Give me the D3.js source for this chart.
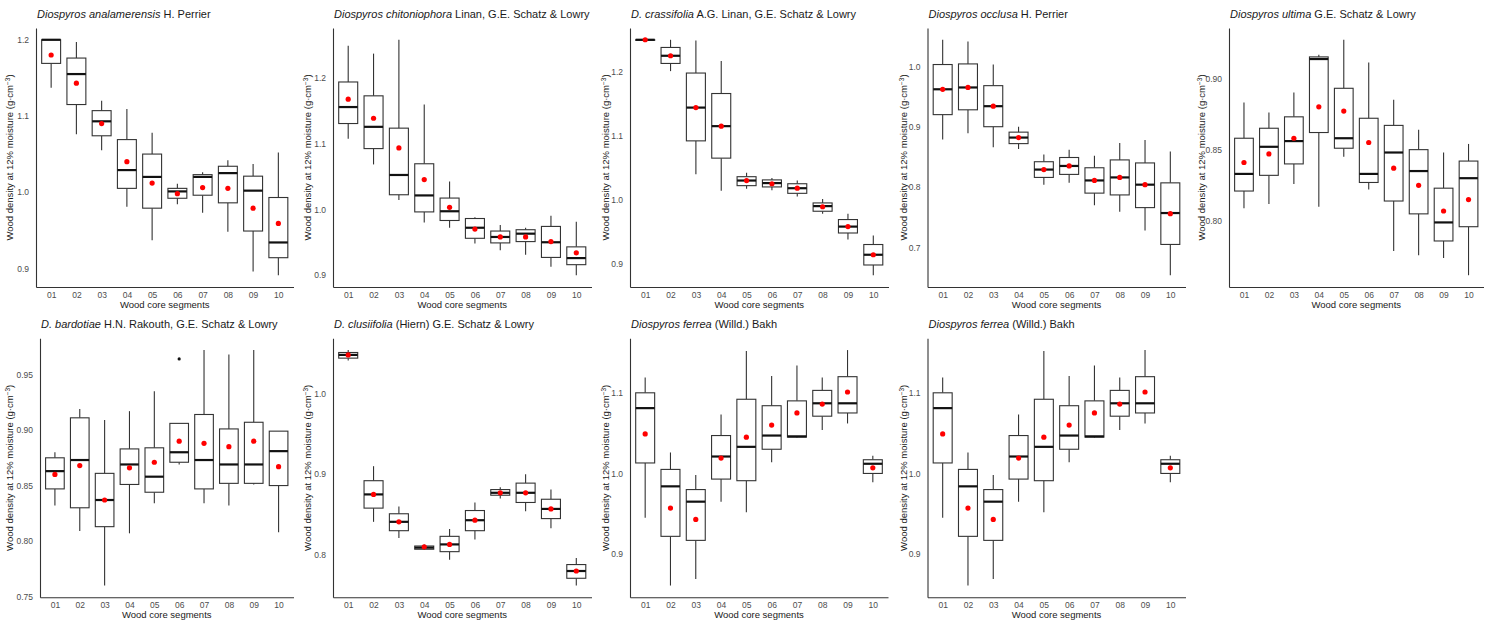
<!DOCTYPE html>
<html>
<head>
<meta charset='utf-8' />
<title>Wood density by core segment</title>
<script src="https://d3js.org/d3.v7.min.js"></script>
<style>
body { margin: 0; padding: 0; background: #fff; }
svg text { font-family: "Liberation Sans", Arial, sans-serif; }
.axis .domain { stroke: #333; stroke-width: 1.1; }
.axis text { fill: #4d4d4d; font-size: 8.5px; }
</style>
</head>
<body>
<div id='chart'></div>
<script>

// segments on the x axis
var segments = ["01","02","03","04","05","06","07","08","09","10"];

// each row: lower whisker, q1, median, q3, upper whisker, mean
var analamerensis = [
  [1.137,1.169,1.200,1.200,1.200,1.180],
  [1.076,1.115,1.155,1.176,1.197,1.143],
  [1.055,1.074,1.093,1.107,1.120,1.090],
  [0.981,1.005,1.029,1.069,1.109,1.040],
  [0.937,0.979,1.020,1.050,1.078,1.012],
  [0.984,0.992,1.001,1.005,1.011,0.998],
  [0.973,0.996,1.020,1.023,1.026,1.006],
  [0.948,0.986,1.025,1.034,1.042,1.005],
  [0.896,0.949,1.002,1.021,1.037,0.979],
  [0.891,0.914,0.934,0.993,1.052,0.959]
];
var chitoniophora = [
  [1.107,1.130,1.155,1.193,1.248,1.167],
  [1.068,1.092,1.125,1.172,1.236,1.138],
  [1.014,1.022,1.052,1.123,1.257,1.093],
  [0.980,0.996,1.021,1.069,1.159,1.045],
  [0.972,0.983,0.997,1.017,1.042,1.003],
  [0.948,0.956,0.972,0.986,0.988,0.970],
  [0.938,0.949,0.958,0.967,0.976,0.958],
  [0.931,0.951,0.963,0.969,0.972,0.958],
  [0.913,0.927,0.950,0.974,0.990,0.951],
  [0.900,0.916,0.926,0.943,0.981,0.934]
];
var crassifolia = [
  [1.250,1.250,1.250,1.250,1.250,1.250],
  [1.201,1.213,1.225,1.238,1.250,1.225],
  [1.040,1.092,1.144,1.198,1.249,1.144],
  [1.014,1.065,1.115,1.166,1.217,1.115],
  [1.017,1.022,1.030,1.036,1.042,1.030],
  [1.015,1.020,1.026,1.031,1.034,1.025],
  [1.005,1.010,1.018,1.025,1.030,1.018],
  [0.978,0.982,0.990,0.995,1.001,0.989],
  [0.938,0.948,0.958,0.969,0.978,0.958],
  [0.882,0.898,0.914,0.930,0.944,0.914]
];
var occlusa = [
  [0.879,0.920,0.962,1.003,1.044,0.962],
  [0.889,0.928,0.965,1.004,1.041,0.965],
  [0.866,0.900,0.934,0.968,1.003,0.934],
  [0.863,0.872,0.882,0.891,0.900,0.882],
  [0.804,0.816,0.829,0.842,0.854,0.829],
  [0.807,0.821,0.835,0.849,0.862,0.835],
  [0.770,0.790,0.811,0.832,0.852,0.811],
  [0.759,0.787,0.816,0.845,0.873,0.816],
  [0.728,0.766,0.804,0.840,0.878,0.804],
  [0.654,0.705,0.757,0.807,0.859,0.756]
];
var ultima = [
  [0.809,0.821,0.833,0.858,0.883,0.841],
  [0.812,0.832,0.852,0.865,0.876,0.847],
  [0.826,0.840,0.856,0.873,0.890,0.858],
  [0.810,0.862,0.9135,0.915,0.9165,0.880],
  [0.845,0.851,0.858,0.893,0.927,0.877],
  [0.822,0.827,0.833,0.872,0.911,0.855],
  [0.779,0.814,0.848,0.867,0.885,0.837],
  [0.776,0.805,0.835,0.850,0.864,0.825],
  [0.774,0.786,0.799,0.823,0.848,0.807],
  [0.762,0.796,0.830,0.842,0.854,0.815]
];
var bardotiae = [
  [0.832,0.847,0.863,0.875,0.880,0.860],
  [0.809,0.830,0.873,0.911,0.919,0.868],
  [0.760,0.813,0.837,0.861,0.909,0.837],
  [0.807,0.851,0.869,0.883,0.917,0.866],
  [0.834,0.844,0.858,0.884,0.935,0.871],
  [0.869,0.871,0.880,0.906,0.906,0.890],
  [0.834,0.847,0.873,0.914,0.972,0.888],
  [0.832,0.852,0.869,0.901,0.968,0.885],
  [0.851,0.852,0.869,0.907,0.972,0.890],
  [0.808,0.850,0.881,0.899,0.899,0.867]
];
var bardotiaeOutliers = [["06", 0.964]];
var clusiifolia = [
  [1.041,1.044,1.048,1.051,1.054,1.048],
  [0.841,0.858,0.875,0.892,0.910,0.875],
  [0.821,0.830,0.841,0.851,0.860,0.841],
  [0.806,0.807,0.809,0.811,0.813,0.810],
  [0.794,0.804,0.813,0.823,0.832,0.813],
  [0.819,0.830,0.843,0.855,0.865,0.843],
  [0.870,0.874,0.877,0.881,0.884,0.877],
  [0.854,0.865,0.877,0.889,0.900,0.877],
  [0.833,0.845,0.857,0.869,0.881,0.857],
  [0.762,0.771,0.780,0.788,0.796,0.780]
];
var ferrea = [
  [0.945,1.013,1.081,1.100,1.119,1.049],
  [0.861,0.922,0.984,1.005,1.026,0.957],
  [0.869,0.917,0.965,0.980,0.998,0.943],
  [0.965,0.993,1.021,1.047,1.073,1.019],
  [0.952,0.991,1.033,1.092,1.152,1.045],
  [1.014,1.030,1.047,1.084,1.121,1.060],
  [1.044,1.045,1.046,1.090,1.134,1.075],
  [1.054,1.071,1.087,1.103,1.119,1.086],
  [1.062,1.075,1.087,1.120,1.153,1.101],
  [0.989,1.000,1.012,1.017,1.022,1.007]
];

// panel titles: italic name, then authority
var titles = [
  ["Diospyros analamerensis", " H. Perrier"],
  ["Diospyros chitoniophora", " Linan, G.E. Schatz & Lowry"],
  ["D. crassifolia", " A.G. Linan, G.E. Schatz & Lowry"],
  ["Diospyros occlusa", " H. Perrier"],
  ["Diospyros ultima", " G.E. Schatz & Lowry"],
  ["D. bardotiae", " H.N. Rakouth, G.E. Schatz & Lowry"],
  ["D. clusiifolia", " (Hiern) G.E. Schatz & Lowry"],
  ["Diospyros ferrea", " (Willd.) Bakh"],
  ["Diospyros ferrea", " (Willd.) Bakh"]
];

// y tick labels per panel
var yTicks = [
  ["0.9","1.0","1.1","1.2"],
  ["0.9","1.0","1.1","1.2"],
  ["0.9","1.0","1.1","1.2"],
  ["0.7","0.8","0.9","1.0"],
  ["0.80","0.85","0.90"],
  ["0.75","0.80","0.85","0.90","0.95"],
  ["0.8","0.9","1.0"],
  ["0.9","1.0","1.1"],
  ["0.9","1.0","1.1"]
];

var panelData = [analamerensis, chitoniophora, crassifolia, occlusa, ultima,
                 bardotiae, clusiifolia, ferrea, ferrea];
var panelOutliers = [[], [], [], [], [], bardotiaeOutliers, [], [], []];

var W = 1492, H = 622;

// layout of each panel (plot area, in px)
var lefts  = [36, 333, 630, 927.5, 1229, 40, 333, 630, 927.5];
var rights = [293.5, 591.5, 888.5, 1185.5, 1483.5, 293.5, 591.5, 888, 1185.5];
var cellLefts = [0, 298, 596, 894, 1192, 0, 298, 596, 894];
var tops = [28, 28, 28, 28, 28, 338.3, 338.3, 338.3, 338.3];
var panelH = 259;

var svg = d3.select("#chart")
  .append("svg")
    .attr("width", W)
    .attr("height", H);

svg.append("rect").attr("width", W).attr("height", H).attr("fill", "#fff");

panelData.forEach(function(data, p) {

  var top = tops[p], bottom = top + panelH;
  var g = svg.append("g");

  var x = d3.scalePoint()
    .domain(segments)
    .range([lefts[p], rights[p]])
    .padding(0.6);

  // ggplot style 5% expansion of the data range
  var vals = [];
  data.forEach(function(d) { vals = vals.concat(d); });
  panelOutliers[p].forEach(function(o) { vals.push(o[1]); });
  var lo = d3.min(vals), hi = d3.max(vals), r = hi - lo;
  var y = d3.scaleLinear()
    .domain([lo - 0.05 * r, hi + 0.05 * r])
    .range([bottom, top]);

  var bw = x.step() * 0.75;

  var boxes = g.selectAll("g.box")
    .data(data)
    .enter()
    .append("g")
      .attr("class", "box");

  // whiskers
  boxes.append("line")
    .attr("x1", function(d, i) { return x(segments[i]); })
    .attr("x2", function(d, i) { return x(segments[i]); })
    .attr("y1", function(d) { return y(d[3]); })
    .attr("y2", function(d) { return y(d[4]); })
    .attr("stroke", "#333").attr("stroke-width", 1.1);
  boxes.append("line")
    .attr("x1", function(d, i) { return x(segments[i]); })
    .attr("x2", function(d, i) { return x(segments[i]); })
    .attr("y1", function(d) { return y(d[0]); })
    .attr("y2", function(d) { return y(d[1]); })
    .attr("stroke", "#333").attr("stroke-width", 1.1);

  // box
  boxes.append("rect")
    .attr("x", function(d, i) { return x(segments[i]) - bw / 2; })
    .attr("y", function(d) { return y(d[3]); })
    .attr("width", bw)
    .attr("height", function(d) { return Math.max(0.5, y(d[1]) - y(d[3])); })
    .attr("fill", "#fff")
    .attr("stroke", "#333")
    .attr("stroke-width", 1.1);

  // median
  boxes.append("line")
    .attr("x1", function(d, i) { return x(segments[i]) - bw / 2; })
    .attr("x2", function(d, i) { return x(segments[i]) + bw / 2; })
    .attr("y1", function(d) { return y(d[2]); })
    .attr("y2", function(d) { return y(d[2]); })
    .attr("stroke", "#111").attr("stroke-width", 2.2);

  // outliers
  g.selectAll("circle.out")
    .data(panelOutliers[p])
    .enter()
    .append("circle")
      .attr("class", "out")
      .attr("cx", function(d) { return x(d[0]); })
      .attr("cy", function(d) { return y(d[1]); })
      .attr("r", 1.6)
      .attr("fill", "#111");

  // means
  boxes.append("circle")
    .attr("cx", function(d, i) { return x(segments[i]); })
    .attr("cy", function(d) { return y(d[5]); })
    .attr("r", 2.6)
    .attr("fill", "#ff0000");

  // axes
  g.append("g")
    .attr("class", "axis")
    .attr("transform", "translate(" + lefts[p] + ",0)")
    .call(d3.axisLeft(y)
      .tickValues(yTicks[p].map(Number))
      .tickFormat(function(v, i) { return yTicks[p][i]; })
      .tickSize(0).tickSizeOuter(0).tickPadding(7));

  g.append("g")
    .attr("class", "axis")
    .attr("transform", "translate(0," + bottom + ")")
    .call(d3.axisBottom(x).tickSize(0).tickSizeOuter(0).tickPadding(5));

  g.selectAll(".axis .domain").attr("fill", "none");

  // axis titles
  g.append("text")
    .attr("x", (lefts[p] + rights[p]) / 2)
    .attr("y", bottom + 21)
    .attr("text-anchor", "middle")
    .attr("fill", "#1a1a1a")
    .style("font-size", "9.5px")
    .text("Wood core segments");

  var yt = g.append("text")
    .attr("transform", "translate(" + (cellLefts[p] + 13) + "," + ((top + bottom) / 2) + ") rotate(-90)")
    .attr("text-anchor", "middle")
    .attr("fill", "#1a1a1a")
    .style("font-size", "9.5px");
  yt.append("tspan").text("Wood density at 12% moisture (g\u00b7cm");
  yt.append("tspan").attr("dy", -3.5).style("font-size", "6.5px").text("\u22123");
  yt.append("tspan").attr("dy", 3.5).text(")");

  // title
  var t = g.append("text")
    .attr("x", lefts[p] + 1)
    .attr("y", top - 10)
    .attr("fill", "#1a1a1a")
    .style("font-size", "11px");
  t.append("tspan").style("font-style", "italic").text(titles[p][0]);
  t.append("tspan").text(titles[p][1]);
});

</script>
</body>
</html>
